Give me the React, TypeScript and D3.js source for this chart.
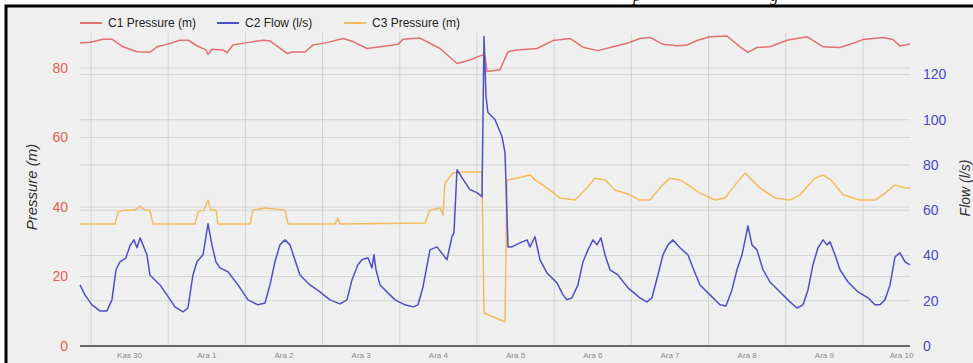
import React from "react";
import * as d3 from "d3";

// x positions are in days since "Kas 30" 00:00
const dayLabels = ["Kas 30", "Ara 1", "Ara 2", "Ara 3", "Ara 4", "Ara 5", "Ara 6", "Ara 7", "Ara 8", "Ara 9", "Ara 10"];
const leftTicks = [0, 20, 40, 60, 80];
const rightTicks = [0, 20, 40, 60, 80, 100, 120];
const seriesNames = ["C1 Pressure (m)", "C2 Flow (l/s)", "C3 Pressure (m)"];

const c1Days = [-0.142, -0.013, 0.155, 0.272, 0.415, 0.596, 0.764, 0.855, 0.984, 1.153, 1.256, 1.373, 1.49, 1.516, 1.567, 1.71, 1.762, 1.839, 2.021, 2.228, 2.319, 2.539, 2.617, 2.772, 2.876, 3.057, 3.264, 3.394, 3.575, 3.744, 3.912, 3.977, 4.041, 4.262, 4.521, 4.741, 4.909, 5.065, 5.104, 5.13, 5.298, 5.402, 5.518, 5.777, 5.984, 6.205, 6.373, 6.567, 6.762, 6.943, 7.111, 7.241, 7.409, 7.591, 7.72, 7.85, 8.018, 8.238, 8.407, 8.51, 8.627, 8.795, 9.016, 9.275, 9.482, 9.702, 9.87, 10.0, 10.259, 10.389, 10.479, 10.609];
const c1Values = [87.2, 87.4, 88.3, 88.3, 86.1, 84.7, 84.5, 86.1, 86.8, 88.0, 88.0, 86.4, 85.2, 83.9, 85.4, 85.2, 84.4, 86.6, 87.3, 88.0, 87.8, 84.2, 84.6, 84.6, 86.6, 87.3, 88.5, 87.6, 85.6, 86.1, 86.6, 86.8, 88.3, 88.6, 85.6, 81.3, 82.3, 83.7, 83.5, 79.0, 79.5, 84.7, 85.2, 85.6, 87.9, 88.5, 86.0, 85.0, 86.1, 87.1, 88.5, 88.8, 86.8, 86.4, 86.6, 87.9, 89.0, 89.2, 86.1, 84.5, 85.9, 86.1, 88.0, 89.0, 86.1, 85.9, 87.1, 88.2, 88.8, 88.2, 86.3, 86.9];

const c2Days = [-0.142, -0.078, 0.013, 0.117, 0.207, 0.272, 0.324, 0.376, 0.453, 0.505, 0.557, 0.596, 0.635, 0.674, 0.725, 0.764, 0.829, 0.894, 0.984, 1.088, 1.192, 1.256, 1.321, 1.373, 1.451, 1.516, 1.567, 1.619, 1.671, 1.775, 1.904, 2.034, 2.163, 2.254, 2.319, 2.383, 2.448, 2.513, 2.578, 2.642, 2.707, 2.837, 2.966, 3.096, 3.225, 3.316, 3.381, 3.458, 3.51, 3.588, 3.64, 3.666, 3.692, 3.744, 3.938, 4.067, 4.171, 4.236, 4.301, 4.391, 4.482, 4.611, 4.676, 4.702, 4.741, 4.806, 4.909, 5.0, 5.065, 5.091, 5.117, 5.142, 5.233, 5.324, 5.363, 5.402, 5.453, 5.557, 5.648, 5.687, 5.751, 5.816, 5.907, 6.036, 6.114, 6.166, 6.231, 6.308, 6.373, 6.438, 6.503, 6.554, 6.606, 6.658, 6.723, 6.826, 6.956, 7.111, 7.202, 7.267, 7.344, 7.409, 7.474, 7.539, 7.63, 7.733, 7.798, 7.889, 8.018, 8.148, 8.225, 8.303, 8.368, 8.433, 8.51, 8.562, 8.627, 8.705, 8.795, 8.925, 9.054, 9.145, 9.223, 9.288, 9.352, 9.417, 9.482, 9.534, 9.573, 9.637, 9.702, 9.806, 9.935, 10.065, 10.155, 10.22, 10.285, 10.35, 10.415, 10.479, 10.544, 10.609];
const c2Values = [27.0, 22.6, 18.2, 15.5, 15.5, 20.4, 33.7, 37.2, 39.0, 44.3, 46.9, 43.4, 47.8, 44.7, 40.3, 31.4, 29.2, 27.0, 22.6, 17.3, 15.1, 16.8, 31.4, 37.2, 40.3, 54.0, 44.7, 37.2, 34.5, 32.8, 27.0, 20.4, 18.2, 19.0, 27.0, 37.2, 44.7, 46.9, 44.7, 38.1, 31.4, 27.0, 23.9, 20.4, 18.6, 20.4, 29.2, 35.9, 38.1, 39.0, 34.5, 40.3, 33.7, 27.0, 20.4, 18.2, 17.3, 18.2, 26.1, 42.5, 43.8, 38.1, 48.3, 50.0, 77.9, 74.4, 69.1, 67.8, 66.0, 136.8, 110.3, 103.2, 100.1, 92.6, 85.5, 43.8, 43.8, 45.6, 46.9, 43.8, 48.3, 38.1, 32.3, 27.9, 22.6, 20.4, 21.3, 27.0, 37.2, 42.5, 46.9, 44.7, 47.8, 40.3, 33.7, 31.4, 25.7, 21.3, 19.5, 21.3, 31.4, 40.3, 44.7, 46.9, 43.4, 40.3, 34.5, 27.0, 22.6, 18.2, 17.7, 24.8, 33.7, 40.3, 53.1, 44.7, 42.5, 33.7, 28.3, 23.9, 19.5, 16.8, 18.2, 24.8, 35.9, 43.4, 46.9, 44.7, 46.1, 40.3, 33.7, 28.3, 23.9, 21.3, 18.2, 18.2, 20.4, 27.0, 39.4, 41.2, 37.2, 35.9];

const c3Days = [-0.142, 0.311, 0.35, 0.44, 0.57, 0.635, 0.699, 0.764, 0.803, 1.347, 1.386, 1.464, 1.516, 1.554, 1.619, 1.645, 2.06, 2.098, 2.254, 2.513, 2.552, 3.161, 3.2, 3.225, 4.326, 4.391, 4.521, 4.56, 4.585, 4.689, 4.78, 5.065, 5.091, 5.363, 5.389, 5.518, 5.687, 5.751, 5.907, 6.075, 6.269, 6.399, 6.528, 6.658, 6.788, 6.982, 7.111, 7.241, 7.37, 7.5, 7.63, 7.759, 7.889, 8.083, 8.212, 8.342, 8.472, 8.562, 8.666, 8.86, 9.054, 9.184, 9.378, 9.482, 9.585, 9.741, 9.961, 10.155, 10.285, 10.415, 10.544, 10.609];
const c3Values = [35.1, 35.1, 38.6, 39.1, 39.1, 40.3, 39.1, 39.1, 35.1, 35.1, 38.6, 39.1, 42.0, 39.1, 39.1, 35.1, 35.1, 39.1, 39.7, 39.1, 35.1, 35.1, 36.8, 35.1, 35.4, 39.1, 39.7, 37.7, 46.9, 49.8, 50.1, 50.1, 9.5, 6.9, 47.8, 48.3, 49.2, 47.8, 45.5, 42.6, 42.0, 44.9, 48.3, 47.8, 44.9, 43.5, 42.0, 42.0, 45.5, 48.3, 47.8, 46.0, 44.0, 42.0, 42.6, 46.3, 49.8, 47.8, 45.5, 42.6, 42.0, 43.5, 48.3, 49.2, 47.8, 43.5, 42.0, 42.0, 44.0, 46.3, 45.5, 45.5];

const W = 973;
const H = 363;
const colors = { c1: "#e27070", c2: "#4f4fc4", c3: "#f3bb5c" };

export default function App() {
  const x = d3.scaleLinear().domain([-0.142, 10.609]).range([80, 910]);
  const yL = d3.scaleLinear().domain([0, 80]).range([346, 68]);
  const yR = d3.scaleLinear().domain([0, 120]).range([346, 74.5]);

  const lineL = (days: number[], vals: number[]) =>
    d3.line<number>().x((_, i) => x(days[i])).y((v) => yL(v))(vals) || "";
  const lineR = (days: number[], vals: number[]) =>
    d3.line<number>().x((_, i) => x(days[i])).y((v) => yR(v))(vals) || "";

  const dayGrid = d3.range(0, 11);
  const legendItems = [
    { name: seriesNames[0], color: colors.c1, x0: 80, tx: 108 },
    { name: seriesNames[1], color: colors.c2, x0: 217, tx: 245 },
    { name: seriesNames[2], color: colors.c3, x0: 344, tx: 372 },
  ];

  return (
    <svg width={W} height={H} style={{ position: "absolute", left: 0, top: 0 }} fontFamily="Liberation Sans, Arial, sans-serif">
      <rect x={0} y={0} width={W} height={H} fill="#ffffff" />
      <text x={633} y={1} fontFamily="Liberation Serif, serif" fontStyle="italic" fontSize={17} fill="#222">p</text>
      <text x={770} y={1} fontFamily="Liberation Serif, serif" fontStyle="italic" fontSize={17} fill="#222">g</text>
      <rect x={6} y={6} width={W} height={H} fill="#efefef" stroke="#000" strokeWidth={3} />

      {/* horizontal gridlines */}
      {leftTicks.filter((t) => t > 0).map((t) => (
        <line key={"gl" + t} x1={80} x2={910} y1={yL(t)} y2={yL(t)} stroke="#d6d6d6" strokeWidth={1} />
      ))}
      {rightTicks.filter((t) => t > 0).map((t) => (
        <line key={"gr" + t} x1={80} x2={910} y1={yR(t)} y2={yR(t)} stroke="#d6d6d6" strokeWidth={1} />
      ))}
      {/* vertical gridlines */}
      {dayGrid.map((d) => (
        <line key={"v" + d} x1={x(d)} x2={x(d)} y1={33} y2={346} stroke="#d2d2d2" strokeWidth={1} />
      ))}

      {/* series */}
      <path d={lineL(c3Days, c3Values)} fill="none" stroke={colors.c3} strokeWidth={1.5} strokeLinejoin="round" />
      <path d={lineL(c1Days, c1Values)} fill="none" stroke={colors.c1} strokeWidth={1.5} strokeLinejoin="round" />
      <path d={lineR(c2Days, c2Values)} fill="none" stroke={colors.c2} strokeWidth={1.5} strokeLinejoin="round" />

      {/* x axis */}
      <line x1={80} x2={910} y1={346} y2={346} stroke="#666" strokeWidth={2} />
      {dayLabels.map((lab, i) => (
        <text key={lab} x={x(i + 0.5)} y={358} fontSize={8} fill="#8a8a8a" textAnchor="middle">{lab}</text>
      ))}

      {/* axis tick labels */}
      {leftTicks.map((t) => (
        <text key={"lt" + t} x={68} y={yL(t)} dy="0.35em" fontSize={14} fill="#e4604e" textAnchor="end">{t}</text>
      ))}
      {rightTicks.map((t) => (
        <text key={"rt" + t} x={923} y={yR(t)} dy="0.35em" fontSize={14} fill="#4a4ac4" textAnchor="start">{t}</text>
      ))}

      <text transform={`translate(37,187) rotate(-90)`} fontSize={15} fontStyle="italic" fill="#333" textAnchor="middle">Pressure (m)</text>
      <text transform={`translate(970,188) rotate(-90)`} fontSize={14} fontStyle="italic" fill="#333" textAnchor="middle">Flow (l/s)</text>

      {/* legend */}
      {legendItems.map((it) => (
        <g key={it.name}>
          <line x1={it.x0} x2={it.x0 + 22} y1={23} y2={23} stroke={it.color} strokeWidth={2} />
          <text x={it.tx} y={23} dy="0.35em" fontSize={12} fill="#222">{it.name}</text>
        </g>
      ))}
    </svg>
  );
}
